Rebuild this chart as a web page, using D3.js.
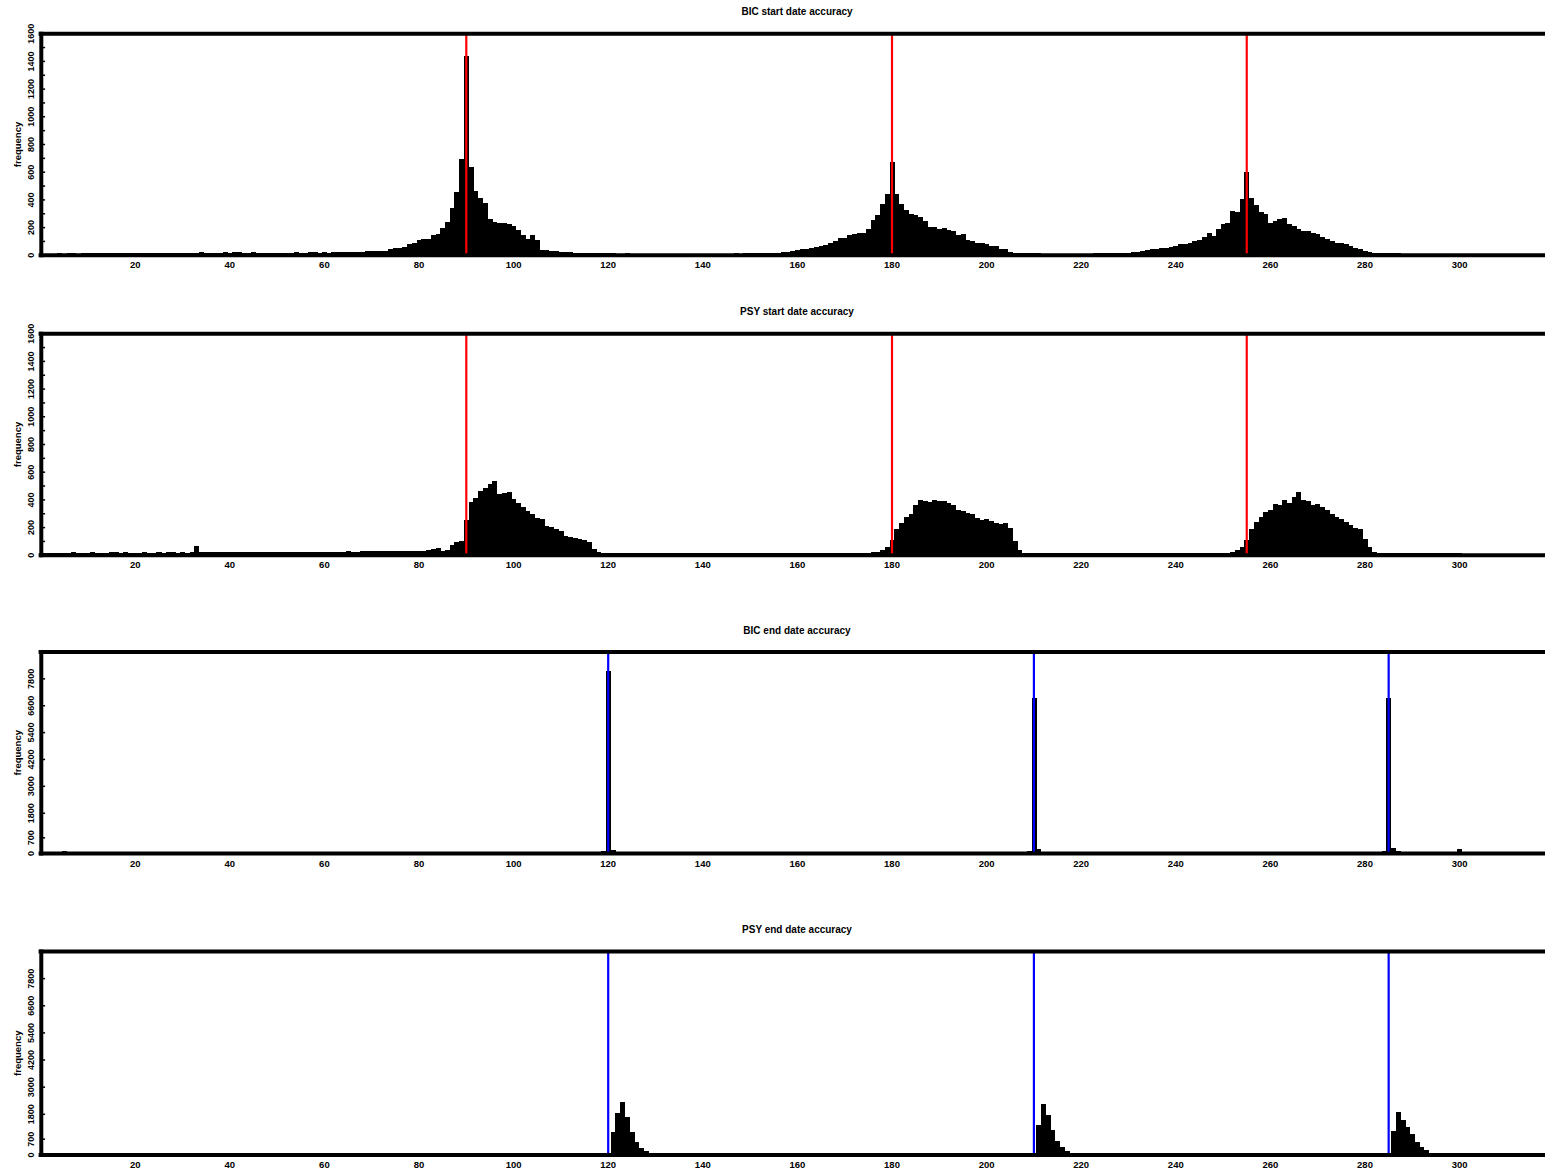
<!DOCTYPE html>
<html><head><meta charset="utf-8">
<script src="https://cdn.jsdelivr.net/npm/d3@7"></script>
<style>
body{margin:0;background:#fff}
svg{display:block}
text{font-family:"Liberation Sans",Arial,sans-serif;font-weight:bold;fill:#000}
</style>
</head><body><svg id="c" width="1545" height="1171"></svg>
<script>
// ---------- data (bins 1..300) ----------
const bins = d3.range(1, 301);
const titles = ["BIC start date accuracy","PSY start date accuracy","BIC end date accuracy","PSY end date accuracy"];
const startMarks = [90, 180, 255];
const endMarks = [120, 210, 285];
const xTicks = [20,40,60,80,100,120,140,160,180,200,220,240,260,280,300];
const startYTicks = [0,200,400,600,800,1000,1200,1400,1600];
const startYMinor = [100,300,500,700,900,1100,1300,1500];
const endYTicks = [0,700,1800,3000,4200,5400,6600,7800];

const bicStart = [
10,12,11,13,12,14,13,12,14,13, 14,13,15,14,13,15,16,14,15,17,
16,18,17,19,18,17,20,19,18,20, 19,18,20,22,19,18,17,19,21,20,
22,21,20,19,21,20,18,19,20,19, 18,20,19,21,20,19,22,21,20,22,
20,21,22,22,23,24,26,27,28,30, 30,31,31,48,50,52,62,82,86,112,
115,118,150,152,194,240,338,459,692,1441, 637,461,416,380,265,240,235,231,228,211,
180,146,120,144,110,38,38,32,30,26, 24,21,19,16,15,15,14,14,13,13,
13,12,12,13,12,12,11,12,12,11, 12,11,12,11,12,11,11,12,11,12,
11,12,12,11,12,12,13,12,13,13, 13,14,15,16,18,20,23,27,31,36,
42,48,55,62,70,74,91,100,125,128, 150,156,158,160,192,254,290,368,445,675,
445,368,324,298,294,279,247,206,202,187, 194,182,178,144,154,110,106,92,90,79,
68,66,45,42,27,19,16,15,14,13, 13,12,12,12,11,12,11,12,11,11,
12,12,13,13,14,15,16,17,19,20, 25,27,34,38,42,45,52,55,60,64,
80,84,88,106,112,135,163,139,192,223, 235,319,312,408,600,411,360,315,295,235,
247,262,266,228,211,187,178,172,163,151, 135,120,103,91,86,82,67,50,46,28,
24,16,15,14,14,13,13,12,12,12, 12,11,12,11,12,11,11,12,11,12
];

const psyStart = [
18,19,18,20,19,20,21,19,20,20, 21,20,19,20,21,22,20,21,20,19,
20,21,20,19,21,20,22,21,20,21, 20,22,68,24,22,21,23,22,21,22,
23,22,21,22,23,22,24,23,22,23, 24,23,24,25,24,23,25,24,26,25,
26,25,27,26,28,27,26,28,29,28, 29,30,29,31,34,33,34,30,29,32,
34,35,43,50,34,38,72,96,100,252, 384,416,464,483,512,536,440,452,459,404,
380,351,320,300,270,259,211,204,187,175, 139,135,127,115,108,95,43,22,18,18,
18,17,18,17,18,17,17,18,17,18, 17,18,17,17,18,17,18,17,17,18,
17,18,17,18,17,17,18,17,18,17, 17,18,17,18,17,18,17,18,17,18,
18,17,18,17,18,18,17,18,18,18, 18,18,19,19,20,22,26,35,60,110,
190,230,275,300,360,400,395,385,400,390, 395,380,360,330,320,305,300,270,255,265,
245,235,225,230,200,100,40,20,18,18, 18,17,18,17,18,17,18,17,18,17,
18,17,18,17,18,17,18,17,18,17, 18,17,18,17,18,17,18,17,18,17,
18,17,18,17,18,17,18,18,18,19, 20,25,40,60,110,190,240,280,310,330,
370,360,400,380,420,460,400,390,360,370, 350,330,300,280,260,240,220,200,190,120,
60,25,18,17,18,17,18,17,18,17, 18,17,18,17,18,17,18,17,18,17
];

const bicEnd = [
40,45,50,70,120,60,45,40,38,40, 42,40,38,41,40,39,42,40,41,39,
40,41,39,42,40,38,41,40,39,41, 40,39,41,40,42,39,40,41,38,40,
41,40,39,42,40,41,39,40,41,40, 39,41,40,40,42,39,41,40,39,41,
40,42,39,41,40,40,39,41,42,40, 41,39,40,42,40,39,41,40,40,42,
39,40,41,40,42,41,39,40,41,40, 40,41,39,42,40,41,40,39,41,40,
41,40,42,39,40,41,40,42,40,41, 40,42,41,43,42,44,45,50,120,8150,
150,60,45,42,40,41,39,40,41,40, 40,41,39,42,40,41,40,39,41,40,
41,40,42,39,40,41,40,42,40,41, 40,39,41,40,42,41,39,40,41,40,
40,41,39,42,40,41,40,39,41,40, 41,40,42,39,40,41,40,42,40,41,
40,39,41,40,42,41,39,40,41,40, 40,41,39,42,40,41,40,39,41,40,
41,40,42,41,43,44,46,55,120,6930, 220,70,45,42,40,41,39,40,41,40,
40,41,39,42,40,41,40,39,41,40, 41,40,42,39,40,41,40,42,40,41,
40,39,41,40,42,41,39,40,41,40, 40,41,39,42,40,41,40,39,41,40,
41,40,42,39,40,41,40,42,40,41, 40,39,41,40,42,41,39,40,41,40,
42,44,48,100,6930,230,90,60,48,45, 44,43,42,44,43,45,44,46,48,210
];

const psyEnd = [
30,32,31,30,33,31,30,32,31,30, 31,30,32,31,30,31,30,32,31,30,
30,31,32,30,31,30,32,31,30,31, 31,30,31,32,30,31,30,31,32,30,
30,32,31,30,31,30,32,31,30,31, 31,30,32,31,30,31,30,32,31,30,
30,31,32,30,31,30,32,31,30,31, 31,30,31,32,30,31,30,31,32,30,
30,32,31,30,31,30,32,31,30,31, 31,30,32,31,30,31,30,32,31,30,
30,31,32,30,31,30,32,31,30,31, 30,31,30,32,31,30,31,32,31,30,
1006,1848,2363,1698,1033,590,297,190,90,50, 40,36,34,32,31,30,31,30,32,31,
30,31,32,30,31,30,32,31,30,31, 31,30,31,32,30,31,30,31,32,30,
30,32,31,30,31,30,32,31,30,31, 31,30,32,31,30,31,30,32,31,30,
30,31,32,30,31,30,32,31,30,31, 31,30,31,32,30,31,30,31,32,30,
30,31,30,32,31,30,31,30,32,31, 1330,2245,1773,1108,620,368,190,90,50,40,
36,34,32,31,30,31,30,32,31,30, 30,31,32,30,31,30,32,31,30,31,
31,30,31,32,30,31,30,31,32,30, 30,32,31,30,31,30,32,31,30,31,
31,30,32,31,30,31,30,32,31,30, 30,31,32,30,31,30,32,31,30,31,
31,30,32,31,30,1077,1920,1551,1254,918, 590,368,222,100,80,70,70,70,60,40
];

// ---------- layout ----------
const panels = [
  {title: titles[0], values: bicStart, marks: startMarks, color: "#ff0000", ticks: startYTicks, minor: startYMinor, yMax: 1600, top: 33.7, bottom: 255.3, titleY: 14.5},
  {title: titles[1], values: psyStart, marks: startMarks, color: "#ff0000", ticks: startYTicks, minor: startYMinor, yMax: 1600, top: 333.7, bottom: 555.3, titleY: 314.5},
  {title: titles[2], values: bicEnd, marks: endMarks, color: "#0000ff", ticks: endYTicks, minor: [], yMax: 9000, top: 652, bottom: 853.5, titleY: 633.5},
  {title: titles[3], values: psyEnd, marks: endMarks, color: "#0000ff", ticks: endYTicks, minor: [], yMax: 9000, top: 951.5, bottom: 1155, titleY: 932.5}
];

const svg = d3.select("#c");
const x = d3.scaleLinear().domain([0, 320]).range([40.6, 40.6 + 320 * 4.73]);
const W = 1545;

panels.forEach(p => {
  const y = d3.scaleLinear().domain([0, p.yMax]).range([p.bottom, p.top]);
  const g = svg.append("g");

  // bars
  g.append("g").attr("shape-rendering", "crispEdges")
    .selectAll("rect").data(bins).join("rect")
    .attr("x", d => x(d - 0.5))
    .attr("width", d => x(d + 0.5) - x(d - 0.5) + 0.3)
    .attr("y", (d, i) => y(p.values[i]))
    .attr("height", (d, i) => y(0) - y(p.values[i]))
    .attr("fill", "#000");

  // marker lines
  g.selectAll("line.mark").data(p.marks).join("line")
    .attr("class", "mark")
    .attr("x1", d => x(d)).attr("x2", d => x(d))
    .attr("y1", p.top).attr("y2", p.bottom)
    .attr("stroke", p.color).attr("stroke-width", 2.2);

  // frame: top, left, bottom
  g.append("line").attr("x1", x(0) - 2).attr("x2", W + 5).attr("y1", p.top).attr("y2", p.top)
    .attr("stroke", "#000").attr("stroke-width", 4);
  g.append("line").attr("x1", x(0) - 2).attr("x2", W + 5).attr("y1", p.bottom).attr("y2", p.bottom)
    .attr("stroke", "#000").attr("stroke-width", 4);
  g.append("line").attr("x1", x(0) + 0.7).attr("x2", x(0) + 0.7).attr("y1", p.top - 2).attr("y2", p.bottom + 2)
    .attr("stroke", "#000").attr("stroke-width", 4);

  // y ticks (inside)
  g.selectAll("line.ytick").data(p.ticks.concat(p.minor)).join("line")
    .attr("class", "ytick")
    .attr("x1", x(0) + 2).attr("x2", x(0) + 4.5)
    .attr("y1", d => y(d)).attr("y2", d => y(d))
    .attr("stroke", "#000").attr("stroke-width", 1.5);

  // y tick labels (rotated)
  g.selectAll("text.ylab").data(p.ticks).join("text")
    .attr("class", "ylab")
    .attr("transform", d => `translate(33.5,${y(d)}) rotate(-90)`)
    .attr("text-anchor", "middle")
    .style("font-size", "9px")
    .text(d => d);

  // y axis title
  g.append("text")
    .attr("transform", `translate(20.5,${(p.top + p.bottom) / 2}) rotate(-90)`)
    .attr("text-anchor", "middle")
    .style("font-size", "9.5px")
    .text("frequency");

  // x tick labels
  g.selectAll("text.xlab").data(xTicks).join("text")
    .attr("class", "xlab")
    .attr("x", d => x(d)).attr("y", p.bottom + 13)
    .attr("text-anchor", "middle")
    .style("font-size", "9.5px")
    .text(d => d);

  // title
  g.append("text")
    .attr("x", 797).attr("y", p.titleY)
    .attr("text-anchor", "middle")
    .style("font-size", "10px")
    .text(p.title);
});
</script>
</body></html>
